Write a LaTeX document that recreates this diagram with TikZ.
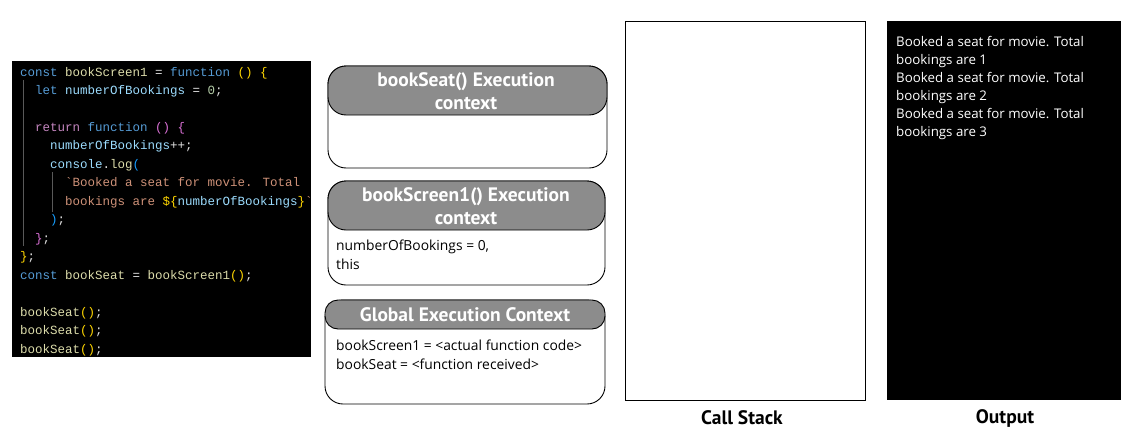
\documentclass[tikz,border=0pt]{standalone}
\usepackage{fontspec}
\setmainfont{Open Sans}
\newfontfamily\hdfont{PT Sans}
\newfontfamily\codefont{Liberation Mono}
\definecolor{ckw}{HTML}{569CD6}
\definecolor{cfn}{HTML}{DCDCAA}
\definecolor{cvar}{HTML}{9CDCFE}
\definecolor{cnum}{HTML}{B5CEA8}
\definecolor{cstr}{HTML}{CE9178}
\definecolor{cctl}{HTML}{C586C0}
\definecolor{cbA}{HTML}{FFD700}
\definecolor{cbB}{HTML}{DA70D6}
\definecolor{cbC}{HTML}{179FFF}
\definecolor{cplain}{HTML}{E0E0E0}
\definecolor{hdgray}{HTML}{8C8C8C}
\newcommand{\Kw}[1]{\textcolor{ckw}{#1}}
\newcommand{\Fn}[1]{\textcolor{cfn}{#1}}
\newcommand{\Vr}[1]{\textcolor{cvar}{#1}}
\newcommand{\Nm}[1]{\textcolor{cnum}{#1}}
\newcommand{\Str}[1]{\textcolor{cstr}{#1}}
\newcommand{\Ctl}[1]{\textcolor{cctl}{#1}}
\newcommand{\BA}[1]{\textcolor{cbA}{#1}}
\newcommand{\BB}[1]{\textcolor{cbB}{#1}}
\newcommand{\BC}[1]{\textcolor{cbC}{#1}}
\begin{document}
\begin{tikzpicture}[x=1pt,y=-1pt,
  codeline/.style={anchor=base west,inner sep=0pt,text=cplain,font=\codefont\fontsize{12.5}{14}\selectfont},
  ctxbox/.style={draw=black,line width=0.9pt,fill=white,rounded corners=18pt},
  ctxhead/.style={draw=black,line width=0.9pt,fill=hdgray,rounded corners=18pt},
  ctxheadlow/.style={draw=black,line width=0.9pt,fill=hdgray,rounded corners=13pt},
  headtext/.style={text=white,align=center,font=\hdfont\bfseries\fontsize{19.5}{23}\selectfont,inner sep=0pt},
  bodytext/.style={anchor=north west,align=left,inner sep=0pt,font=\fontsize{13.85}{19}\selectfont},
  outtext/.style={anchor=north west,align=left,inner sep=0pt,text=white,font=\fontsize{13.3}{18}\selectfont},
  label/.style={font=\hdfont\bfseries\fontsize{19.5}{20}\selectfont,inner sep=0pt}]
\useasboundingbox (0,0) rectangle (1135,442);
\fill[white] (0,0) rectangle (1135,442);
% code panel
\fill[black] (12,61) rectangle (311,357);
\draw[gray!70!black,line width=1pt] (23,80) -- (23,246);
\draw[gray!70!black,line width=1pt] (52,172) -- (52,212);
\begin{scope}
\clip (12,61) rectangle (311,357);
\node[codeline] (c1) at (20,76.5) {\Kw{const} \Fn{bookScreen1} = \Kw{function} \BA{()} \BA{\{}};
\node[codeline] (c2) at (35,94.5) {\Kw{let} \Vr{numberOfBookings} = \Nm{0};};
\node[codeline] (c4) at (35,131.5) {\Ctl{return} \Kw{function} \BB{()} \BB{\{}};
\node[codeline] (c5) at (50,149.5) {\Vr{numberOfBookings}++;};
\node[codeline] (c6) at (50,168) {\Vr{console}.\Fn{log}\BC{(}};
\node[codeline] (c7) at (65,186.5) {\Str{`Booked a seat for movie. Total}};
\node[codeline] (c8) at (65,205) {\Str{bookings are }\BA{\$\{}\Vr{numberOfBookings}\BA{\}}\Str{`}};
\node[codeline] (c9) at (50,223.5) {\BC{)};};
\node[codeline] (c10) at (35,242) {\BB{\}};};
\node[codeline] (c11) at (20,260.5) {\BA{\}};};
\node[codeline] (c12) at (20,279) {\Kw{const} \Fn{bookSeat} = \Fn{bookScreen1}\BA{()};};
\node[codeline] (c14) at (20,316) {\Fn{bookSeat}\BA{()};};
\node[codeline] (c15) at (20,334.5) {\Fn{bookSeat}\BA{()};};
\node[codeline] (c16) at (20,353) {\Fn{bookSeat}\BA{()};};
\end{scope}
% context boxes
\draw[ctxbox] (328,66) rectangle (607,168);
\draw[ctxhead] (328,66) rectangle (607,115);
\node[headtext] (h1) at (466,91) {bookSeat() Execution\\context};
\draw[ctxbox] (328,181) rectangle (605,285);
\draw[ctxhead] (328,181) rectangle (605,230);
\node[headtext] (h2) at (466,206) {bookScreen1() Execution\\context};
\node[bodytext] (b2) at (336,240) {numberOfBookings = 0,\\this};
\draw[ctxbox] (325,300) rectangle (605,404);
\draw[ctxheadlow] (325,300) rectangle (605,329);
\node[headtext] (h3) at (465,315) {Global Execution Context};
\node[bodytext] (b3) at (336,340) {bookScreen1 = <actual function code>\\bookSeat = <function received>};
% call stack
\draw[line width=0.9pt] (625,21) rectangle (865,400);
\node[label] (l1) at (742,418) {Call Stack};
% output
\fill[black] (887,21) rectangle (1121,400);
\node[outtext] (o1) at (896,36) {Booked a seat for movie. Total\\bookings are 1\\Booked a seat for movie. Total\\bookings are 2\\Booked a seat for movie. Total\\bookings are 3};
\node[label] (l2) at (1005,418) {Output};
\end{tikzpicture}
\end{document}
